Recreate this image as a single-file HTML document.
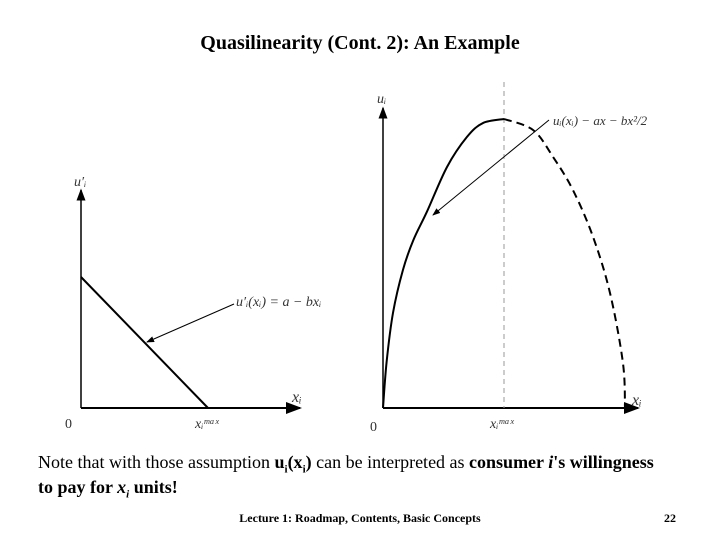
<!DOCTYPE html>
<html><head><meta charset="utf-8"><style>
body{margin:0;background:#fff;}
#wrap{position:relative;width:720px;height:540px;overflow:hidden;font-family:"Liberation Serif",serif;}
.t{position:absolute;white-space:nowrap;color:#000;}
sub{line-height:0;font-size:11px;}
</style></head><body>
<div id="wrap">
<div class="t" style="left:0;width:720px;text-align:center;top:32px;font-size:20px;font-weight:bold;">Quasilinearity (Cont. 2): An Example</div>
<svg id="chart" width="720" height="540" style="position:absolute;left:0;top:0">
<defs><marker id="ah" markerWidth="8" markerHeight="6" refX="7" refY="3" orient="auto"><path d="M0,0L8,3L0,6z" fill="#000"/></marker></defs>
</svg>
<div class="t" style="left:38px;top:450px;font-size:18px;line-height:25px;">Note that with those assumption <b>u<sub>i</sub>(x<sub>i</sub>)</b> can be interpreted as <b>consumer <i>i</i>'s willingness</b><br><b>to pay for <i>x<sub>i</sub></i> units!</b></div>
<div class="t" style="left:0;width:720px;text-align:center;top:511px;font-size:12px;font-weight:bold;">Lecture 1: Roadmap, Contents, Basic Concepts</div>
<div class="t" style="left:664px;top:511px;font-size:12px;font-weight:bold;">22</div>
</div>
<script>
// Right chart: utility curve (x in units of x_max, y relative to peak)
const uX=[0,0.03,0.083,0.165,0.25,0.364,0.529,0.694,0.826,1.0];
const uY=[0,0.16,0.33,0.478,0.58,0.68,0.834,0.938,0.986,1.0];
const dX=[1.0,1.24,1.405,1.57,1.736,1.876,1.983,2.0];
const dY=[1.0,0.962,0.869,0.754,0.592,0.398,0.156,0];
// Left chart: marginal utility line
const mX=[0,1];
const mY=[1,0];
const svg=document.getElementById('chart');
const NS='http://www.w3.org/2000/svg';
function mk(tag,at){const e=document.createElementNS(NS,tag);for(const k in at)e.setAttribute(k,at[k]);svg.appendChild(e);return e;}
const rx=v=>383+v*121, ry=v=>408-v*289;
const lx=v=>81+v*127, ly=v=>408-v*131;
function txt(x,y,s,size,name,italic){const t=mk('text',{x:x,y:y,'font-size':size,'font-family':'Liberation Serif, serif','font-style':italic?'italic':'normal',fill:'#333'});t.textContent=s;

return t;}
let e=mk('line',{x1:81,y1:408,x2:81,y2:190,stroke:'#000','stroke-width':1.5,'marker-end':'url(#ah)'});


e=mk('line',{x1:81,y1:408,x2:300,y2:408,stroke:'#000','stroke-width':2,'marker-end':'url(#ah)'});


e=mk('line',{x1:lx(mX[0]),y1:ly(mY[0]),x2:lx(mX[1]),y2:ly(mY[1]),stroke:'#000','stroke-width':2});


e=mk('line',{x1:234,y1:304,x2:147,y2:342,stroke:'#000','stroke-width':1,'marker-end':'url(#ah)'});


txt(236,306,"u′ᵢ(xᵢ) = a − bxᵢ",14,'left-annotation',true);
txt(74,186,"u′ᵢ",14,'left-y-label',true);
txt(292,402,"xᵢ",16,'left-x-label',true);
txt(65,428,"0",14,'left-origin-label',false);
txt(195,428,"xᵢᵐᵃˣ",14,'left-xmax-label',true);
e=mk('line',{x1:383,y1:408,x2:383,y2:108,stroke:'#000','stroke-width':1.5,'marker-end':'url(#ah)'});


e=mk('line',{x1:383,y1:408,x2:638,y2:408,stroke:'#000','stroke-width':2,'marker-end':'url(#ah)'});


e=mk('line',{x1:rx(1),y1:82,x2:rx(1),y2:408,stroke:'#999','stroke-width':1,'stroke-dasharray':'5,4'});


function path(xs,ys){
  const p=xs.map((x,i)=>[rx(x),ry(ys[i])]);
  let d='M'+p[0][0].toFixed(1)+','+p[0][1].toFixed(1);
  for(let i=0;i<p.length-1;i++){
    const p0=p[i-1]||p[i],p1=p[i],p2=p[i+1],p3=p[i+2]||p2;
    const c1=[p1[0]+(p2[0]-p0[0])/6,p1[1]+(p2[1]-p0[1])/6];
    const c2=[p2[0]-(p3[0]-p1[0])/6,p2[1]-(p3[1]-p1[1])/6];
    d+='C'+c1.join(',')+' '+c2.join(',')+' '+p2.join(',');
  }
  return d;}
e=mk('path',{d:path(uX,uY),fill:'none',stroke:'#000','stroke-width':2,'stroke-linejoin':'round'});


e=mk('path',{d:path(dX,dY),fill:'none',stroke:'#000','stroke-width':2,'stroke-dasharray':'8,5'});


e=mk('line',{x1:549,y1:120,x2:433,y2:215,stroke:'#000','stroke-width':1,'marker-end':'url(#ah)'});


txt(553,125,"uᵢ(xᵢ) − ax − bx²/2",13,'right-annotation',true);
txt(377,103,"uᵢ",14,'right-y-label',true);
txt(632,405,"xᵢ",16,'right-x-label',true);
txt(370,431,"0",14,'right-origin-label',false);
txt(490,428,"xᵢᵐᵃˣ",14,'right-xmax-label',true);
</script>
</body></html>
